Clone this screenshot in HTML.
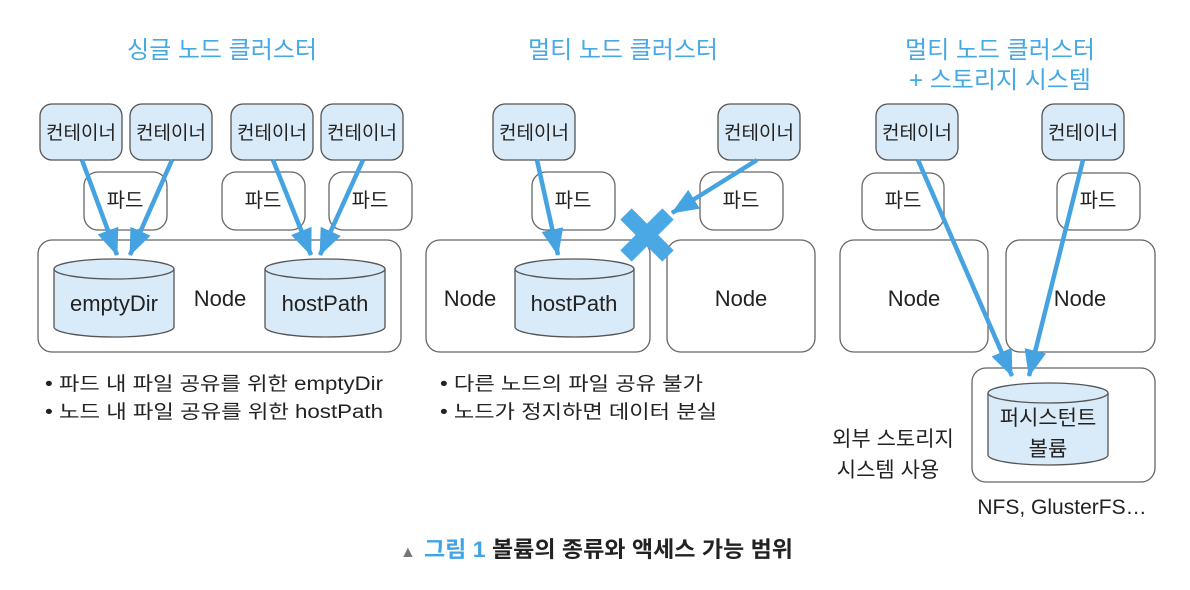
<!DOCTYPE html>
<html><head><meta charset="utf-8"><style>
html,body{margin:0;padding:0;background:#fff;}
svg{display:block;}
text{font-family:"Liberation Sans","Noto Sans CJK KR",sans-serif;}
</style></head><body>
<svg width="1190" height="590" viewBox="0 0 1190 590" xmlns="http://www.w3.org/2000/svg">
<defs>
<marker id="ah" markerUnits="userSpaceOnUse" markerWidth="28" markerHeight="24" refX="26" refY="12" orient="auto">
<polygon points="0,1 27,12 0,23" fill="#45a3e2"/>
</marker>
</defs>
<g fill="#45a9e4" font-size="24" text-anchor="middle">
<text x="222" y="58">싱글 노드 클러스터</text>
<text x="623" y="58">멀티 노드 클러스터</text>
<text x="1000" y="58">멀티 노드 클러스터</text>
<text x="1000" y="88">+ 스토리지 시스템</text>
</g>
<g stroke="#666" stroke-width="1.3" fill="#fff">
<rect x="84" y="172" width="83" height="58" rx="14"/>
<rect x="222" y="172" width="83" height="58" rx="14"/>
<rect x="329" y="172" width="83" height="58" rx="14"/>
<rect x="38" y="240" width="363" height="112" rx="14"/>
<rect x="532" y="172" width="83" height="58" rx="14"/>
<rect x="700" y="172" width="83" height="58" rx="14"/>
<rect x="426" y="240" width="224" height="112" rx="14"/>
<rect x="667" y="240" width="148" height="112" rx="14"/>
<rect x="862" y="173" width="82" height="57" rx="14"/>
<rect x="1057" y="173" width="83" height="57" rx="14"/>
<rect x="840" y="240" width="148" height="112" rx="14"/>
<rect x="1006" y="240" width="149" height="112" rx="14"/>
<rect x="972" y="368" width="183" height="114" rx="14"/>
</g>
<g stroke="#555" stroke-width="1.3" fill="#d9ebf9">
<rect x="40" y="104" width="82" height="56" rx="12"/>
<rect x="130" y="104" width="82" height="56" rx="12"/>
<rect x="231" y="104" width="82" height="56" rx="12"/>
<rect x="321" y="104" width="82" height="56" rx="12"/>
<rect x="493" y="104" width="82" height="56" rx="12"/>
<rect x="718" y="104" width="82" height="56" rx="12"/>
<rect x="876" y="104" width="82" height="56" rx="12"/>
<rect x="1042" y="104" width="82" height="56" rx="12"/>
</g>
<g stroke="#555" stroke-width="1.3" fill="#d9ebf9">
<path d="M54,269 L54,327 A60,10 0 0 0 174,327 L174,269"/>
<ellipse cx="114" cy="269" rx="60" ry="10"/>
<path d="M265,269 L265,327 A60,10 0 0 0 385,327 L385,269"/>
<ellipse cx="325" cy="269" rx="60" ry="10"/>
<path d="M515,269 L515,327 A59.5,10 0 0 0 634,327 L634,269"/>
<ellipse cx="574.5" cy="269" rx="59.5" ry="10"/>
<path d="M988,393 L988,455 A60,10 0 0 0 1108,455 L1108,393"/>
<ellipse cx="1048" cy="393" rx="60" ry="10"/>
</g>
<g font-size="19" fill="#222" text-anchor="middle">
<text x="81" y="139">컨테이너</text>
<text x="171" y="139">컨테이너</text>
<text x="272" y="139">컨테이너</text>
<text x="362" y="139">컨테이너</text>
<text x="534" y="139">컨테이너</text>
<text x="759" y="139">컨테이너</text>
<text x="917" y="139">컨테이너</text>
<text x="1083" y="139">컨테이너</text>
<text x="125" y="207" font-size="20">파드</text>
<text x="263" y="207" font-size="20">파드</text>
<text x="370" y="207" font-size="20">파드</text>
<text x="573" y="207" font-size="20">파드</text>
<text x="741" y="207" font-size="20">파드</text>
<text x="903" y="207" font-size="20">파드</text>
<text x="1098" y="207" font-size="20">파드</text>
</g>
<g font-size="22" fill="#222" text-anchor="middle">
<text x="114" y="311">emptyDir</text>
<text x="220" y="306">Node</text>
<text x="325" y="311">hostPath</text>
<text x="470" y="306">Node</text>
<text x="574" y="311">hostPath</text>
<text x="741" y="306">Node</text>
<text x="914" y="306">Node</text>
<text x="1080" y="306">Node</text>
</g>
<g font-size="21" fill="#222" text-anchor="middle">
<text x="1048" y="425">퍼시스턴트</text>
<text x="1048" y="456">볼륨</text>
<text x="893" y="446">외부 스토리지</text>
<text x="888" y="477">시스템 사용</text>
<text x="1062" y="514">NFS, GlusterFS…</text>
</g>
<g font-size="19" fill="#222">
<text x="45" y="390" textLength="338" lengthAdjust="spacingAndGlyphs">• 파드 내 파일 공유를 위한 emptyDir</text>
<text x="45" y="418" textLength="338" lengthAdjust="spacingAndGlyphs">• 노드 내 파일 공유를 위한 hostPath</text>
<text x="440" y="390" textLength="263" lengthAdjust="spacingAndGlyphs">• 다른 노드의 파일 공유 불가</text>
<text x="440" y="418" textLength="277" lengthAdjust="spacingAndGlyphs">• 노드가 정지하면 데이터 분실</text>
</g>
<g stroke="#45a3e2" stroke-width="4.5" marker-end="url(#ah)" fill="none">
<line x1="82" y1="160" x2="117" y2="255"/>
<line x1="172" y1="160" x2="130" y2="255"/>
<line x1="273" y1="160" x2="311" y2="255"/>
<line x1="363" y1="160" x2="320" y2="255"/>
<line x1="537" y1="160" x2="558" y2="255"/>
<line x1="757" y1="160" x2="672" y2="213"/>
<line x1="918" y1="160" x2="1012" y2="376"/>
<line x1="1083" y1="160" x2="1029" y2="376"/>
</g>
<g stroke="#4aa9e4" stroke-width="16">
<line x1="626" y1="214" x2="668" y2="256"/>
<line x1="668" y1="214" x2="626" y2="256"/>
</g>
<text x="400" y="557" font-size="16" fill="#777">▲</text>
<text x="424" y="557" font-size="22" fill="#222" font-weight="bold" textLength="369" lengthAdjust="spacingAndGlyphs"><tspan fill="#3fa3e8">그림 1</tspan> 볼륨의 종류와 액세스 가능 범위</text>
</svg>
</body></html>
